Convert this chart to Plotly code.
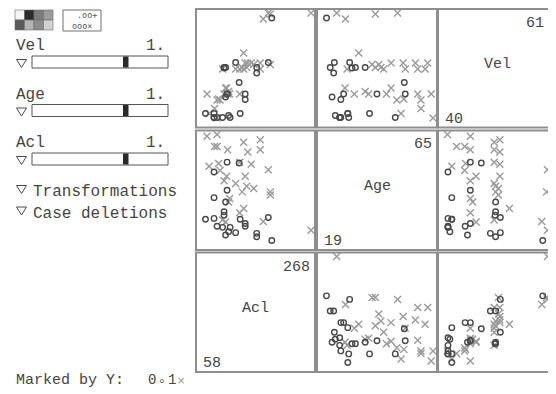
import plotly.graph_objects as go

# ---------------- data (one entry per case) ----------------
vel = [44.8, 40.0, 41.9, 43.6, 44.8, 49.8, 51.0, 51.0, 49.8, 40.9,
       43.8, 44.8, 47.1, 49.8, 51.0, 40.1, 43.6, 61.0, 46.0, 44.8,
       49.8, 51.0, 50.1, 50.7, 50.1, 44.8, 60.8, 50.7, 40.9, 50.1,
       44.8, 45.3, 53.0, 44.8, 50.1, 50.0, 40.9, 40.1, 49.8, 46.0,
       40.9, 44.8, 43.7, 59.8, 51.1, 40.1, 40.1, 40.1, 40.5, 44.2,
       51.1, 49.0, 50.1, 60.0, 61.0]
age = [64.2, 65.0, 59.8, 59.8, 58.4, 61.6, 62.7, 57.4, 58.4, 51.2,
       52.4, 53.0, 52.6, 53.0, 52.1, 48.7, 49.4, 49.7, 46.9, 44.9,
       43.7, 46.9, 42.5, 41.6, 40.1, 40.8, 40.1, 38.7, 37.6, 35.7,
       37.2, 35.7, 32.9, 31.0, 31.5, 30.0, 28.2, 28.6, 27.9, 27.0,
       28.2, 26.4, 25.2, 27.2, 29.0, 25.2, 24.7, 24.7, 22.8, 21.4,
       22.4, 22.1, 20.6, 19.0, 23.4]
acl = [61, 81, 76, 81, 102, 134, 167, 142, 167, 65,
       84, 101, 125, 126, 149, 75, 87, 183, 100, 95,
       118, 137, 140, 154, 131, 101, 187, 187, 75, 98,
       106, 104, 134, 126, 95, 95, 58, 75, 92, 98,
       127, 137, 137, 173, 183, 81, 92, 107, 104, 98,
       118, 160, 160, 190, 268]
marked_y = [1, 1, 1, 1, 1, 1, 1, 1, 1, 1,
            1, 0, 0, 1, 1, 0, 1, 1, 1, 1,
            1, 1, 1, 1, 1, 0, 1, 1, 0, 0,
            1, 1, 1, 1, 0, 0, 0, 0, 1, 1,
            0, 0, 0, 1, 0, 0, 0, 0, 0, 0,
            0, 0, 0, 0, 1]

row_vars = ["Vel", "Age", "Acl"]
col_vars = ["Acl", "Age", "Vel"]
slider_vars = ["Vel", "Age", "Acl"]
slider_values = ["1.", "1.", "1."]
menu_items = ["Transformations", "Case deletions"]
legend_title = "Marked by Y:"
legend_levels = ["0", "1"]

# ---------------- layout helpers ----------------
# the page body keeps its 8px margin; the figure is placed to compensate
OFF = 8
W, H = 556 - OFF, 394 - OFF
FONT = "Liberation Mono, Courier New, monospace"
TXT = "#454545"


def px(x):
    return (x - OFF) / W


def py(y):
    return 1 - (y - OFF) / H


def label(x, y, text, xanchor="left", size=15, color=TXT, family=FONT):
    return dict(x=px(x), y=py(y), xref="paper", yref="paper", xanchor=xanchor, yanchor="middle",
                text=text, showarrow=False, font=dict(family=family, size=size, color=color))


columns = {"Vel": vel, "Age": age, "Acl": acl}
ROWS = [(9, 127.5), (130.5, 250), (252.5, 372)]
COLS = [(196, 315), (317, 437), (438, 557.5)]
MAP_RIGHT = [315, 437, 551.5]   # right edge used for the data scale of each column

fig = go.Figure()
layout = dict(width=W, height=H, margin=dict(l=0, r=0, t=0, b=0),
              paper_bgcolor="white", plot_bgcolor="white", showlegend=False)
shapes = []
annotations = []


def x_range(vmin, vmax, c0, c1, d1):
    scale = ((c1 - 4) - (c0 + 9.5)) / (vmax - vmin)
    lo = vmin - 9.5 / scale
    return [lo, lo + (d1 - c0) / scale]


def y_range(vmin, vmax, r0, r1):
    scale = ((r1 - r0) - 13.5) / (vmax - vmin)
    lo = vmin - 9.5 / scale
    return [lo, lo + (r1 - r0) / scale]


for i, rv in enumerate(row_vars):
    r0, r1 = ROWS[i]
    for j, cv in enumerate(col_vars):
        c0, c1 = COLS[j]
        d1 = min(c1, W + OFF)
        k = i * 3 + j + 1
        xa = "x" if k == 1 else f"x{k}"
        ya = "y" if k == 1 else f"y{k}"
        xvals, yvals = columns[cv], columns[rv]
        layout["xaxis" if k == 1 else f"xaxis{k}"] = dict(
            domain=[px(c0), px(d1)], range=x_range(min(xvals), max(xvals), c0, MAP_RIGHT[j], d1),
            visible=False, anchor=ya, fixedrange=True)
        layout["yaxis" if k == 1 else f"yaxis{k}"] = dict(
            domain=[py(r1), py(r0)], range=y_range(min(yvals), max(yvals), r0, r1),
            visible=False, anchor=xa, fixedrange=True)
        shapes.append(dict(type="rect", xref="paper", yref="paper",
                           x0=px(c0), x1=px(c1), y0=py(r1), y1=py(r0),
                           line=dict(color="#8e8e8e", width=2), layer="above"))
        if rv == cv:
            vals = columns[rv]
            annotations.append(label((c0 + c1) / 2, (r0 + r1) / 2 - 4, rv, xanchor="center"))
            annotations.append(label(min(c1 - 3, 546), r0 + 14.5, f"{max(vals):g}", xanchor="right"))
            annotations.append(label(c0 + 5, r1 - 8.5, f"{min(vals):g}", xanchor="left"))
            continue
        for flag, sym, color, size, lw in [(1, "x-thin-open", "#9a9a9a", 7, 1.4),
                                           (0, "circle-open", "#4a4a4a", 5.5, 1.4)]:
            xs = [xv for xv, f in zip(xvals, marked_y) if f == flag]
            ys = [yv for yv, f in zip(yvals, marked_y) if f == flag]
            fig.add_trace(go.Scatter(x=xs, y=ys, xaxis=xa, yaxis=ya, mode="markers",
                                     cliponaxis=False, hoverinfo="skip",
                                     marker=dict(symbol=sym, size=size, color=color,
                                                 line=dict(color=color, width=lw))))

# ---------------- control panel on the left ----------------
# colour palette icon
pal = [["#f4f4f4", "#2a2a2a", "#7c7c7c", "#9c9c9c"],
       ["#5a5a5a", "#b4b4b4", "#8c8c8c", "#d2d2d2"]]
for r, rowc in enumerate(pal):
    for c, colr in enumerate(rowc):
        shapes.append(dict(type="rect", xref="paper", yref="paper",
                           x0=px(15 + c * 9.5), x1=px(15 + (c + 1) * 9.5),
                           y0=py(10 + (r + 1) * 10), y1=py(10 + r * 10),
                           fillcolor=colr, line=dict(color="#6a6a6a", width=0.6)))
# symbol icon
shapes.append(dict(type="rect", xref="paper", yref="paper", x0=px(63), x1=px(101), y0=py(31), y1=py(10),
                   fillcolor="white", line=dict(color="#707070", width=1)))
annotations.append(label(87, 15, ".oo+", xanchor="center", size=8.5, color="#555", family="DejaVu Sans Mono"))
annotations.append(label(82, 25.5, "ooo×", xanchor="center", size=8.5, color="#555", family="DejaVu Sans Mono"))


def tri(x, y):
    return dict(type="path", xref="paper", yref="paper",
                path=f"M {px(x)} {py(y)} L {px(x + 10)} {py(y)} L {px(x + 5)} {py(y + 8)} Z",
                line=dict(color="#4a4a4a", width=1), fillcolor="white")


slider_y = [46, 94.5, 143]
for name, val, ty in zip(slider_vars, slider_values, slider_y):
    annotations.append(label(14, ty, name, size=16))
    annotations.append(label(167, ty, val, xanchor="right", size=16))
    by = ty + 10
    shapes.append(tri(16.5, by + 3.5))
    shapes.append(dict(type="rect", xref="paper", yref="paper", x0=px(32), x1=px(168),
                       y0=py(by + 12), y1=py(by), fillcolor="white", line=dict(color="#555", width=1)))
    shapes.append(dict(type="rect", xref="paper", yref="paper", x0=px(123), x1=px(128.5),
                       y0=py(by + 11.5), y1=py(by + 0.5), fillcolor="#2a2a2a", line=dict(width=0)))

for item, ty in zip(menu_items, [192.5, 214]):
    shapes.append(tri(16.5, ty - 7))
    annotations.append(label(31, ty, item, size=16))

# marking legend
annotations.append(label(14, 380, legend_title, size=15))
annotations.append(label(146, 380, legend_levels[0], size=14))
annotations.append(label(155.5, 381, "∘", size=12, color="#555", family="DejaVu Sans"))
annotations.append(label(166, 380, legend_levels[1], size=14))
annotations.append(label(174.5, 380, "×", size=10, color="#999", family="DejaVu Sans"))

layout["shapes"] = shapes
layout["annotations"] = annotations
fig.update_layout(**layout)
fig.write_html("out.html")
